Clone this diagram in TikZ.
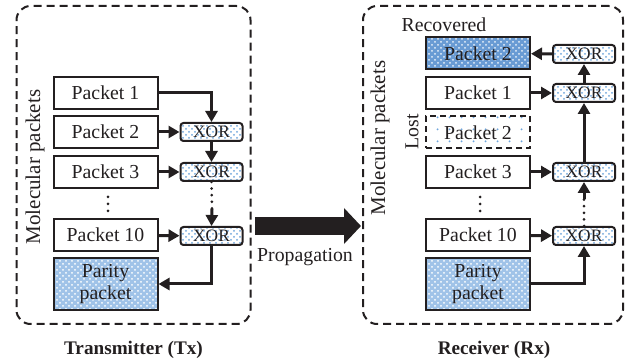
\documentclass[tikz,border=0pt]{standalone}
\usepackage{amsmath}
\usepackage{fontspec}
\setmainfont{Liberation Serif}
\usetikzlibrary{arrows.meta,patterns}

\pgfdeclarepatternformonly{sparse dots}{\pgfpointorigin}{\pgfqpoint{6pt}{6pt}}{\pgfqpoint{6pt}{6pt}}{\pgfpathcircle{\pgfqpoint{3pt}{3pt}}{0.55pt}\pgfusepath{fill}}

\definecolor{dotblue}{RGB}{110,165,220}
\definecolor{parblue}{RGB}{160,195,232}
\definecolor{recblue}{RGB}{105,155,212}
\definecolor{ink}{RGB}{35,31,32}

\begin{document}
\begin{tikzpicture}[x=0.5pt, y=-0.5pt, font=\fontsize{9.9}{11}\selectfont, text=ink,
        pkt/.style={draw=ink, line width=1pt, minimum width=52pt, minimum height=16pt, inner sep=0pt, fill=white},
        xorbox/.style={draw=ink, line width=1pt, rounded corners=1.5pt, minimum width=31pt, minimum height=9pt, inner sep=0pt,
            font=\fontsize{8.7}{9}\selectfont, preaction={fill=white}, pattern=crosshatch dots, pattern color=dotblue},
        parity/.style={pkt, minimum height=26pt, align=center, preaction={fill=parblue}, pattern=crosshatch dots, pattern color=white},
        recov/.style={pkt, preaction={fill=recblue}, pattern=crosshatch dots, pattern color=white!85!recblue},
        lost/.style={pkt, dashed, dash pattern=on 3pt off 2pt, preaction={fill=white}, pattern=sparse dots, pattern color=dotblue},
        unit/.style={draw=ink, line width=1pt, dash pattern=on 4pt off 2.5pt, rounded corners=7pt, minimum width=117pt, minimum height=159pt},
        side/.style={rotate=90, font=\fontsize{10.5}{12}\selectfont},
        title/.style={font=\fontsize{9.6}{11}\selectfont\bfseries},
        conn/.style={draw=ink, line width=1.5pt, -{Triangle[length=5.5pt,width=6pt]}},
        dotline/.style={draw=ink, line width=1.5pt, line cap=round, dash pattern=on 0pt off 3.3pt},
        prop/.style={draw=ink, line width=9pt, -{Triangle[length=8.5pt,width=17.5pt]}}]
        \useasboundingbox (0,0) rectangle (627,363);

        % transmitter
        \node[unit] (tx) at (133.5,165) {};
        \node[side] (txmol) at (35,167) {Molecular packets};
        \node[pkt] (tp1) at (105.5,93) {Packet 1};
        \node[pkt] (tp2) at (105.5,132) {Packet 2};
        \node[pkt] (tp3) at (105.5,172) {Packet 3};
        \foreach \y in {197,204,211}
            \fill[ink] (108,\y) circle (0.75pt);
        \node[pkt] (tp10) at (105.5,235) {Packet 10};
        \node[parity] (tpar) at (105.5,284) {Parity\\packet};
        \node[xorbox] (tx2) at (211.5,132) {XOR};
        \node[xorbox] (tx3) at (211.5,172) {XOR};
        \node[xorbox] (tx10) at (211.5,236) {XOR};
        \coordinate (tgap) at (212,209);
        \draw[conn] (tp1.east) -| (tx2.north);
        \draw[conn] (tp2) -- (tx2);
        \draw[conn] (tp3) -- (tx3);
        \draw[conn] (tp10) -- (tx10);
        \draw[conn] (tx2) -- (tx3);
        \draw[dotline] (tx3.south) -- (tgap);
        \draw[conn] (tgap) -- (tx10.north);
        \draw[conn] (tx10.south) |- (tpar.east);
        \node[title] (txname) at (133.5,350) {Transmitter (Tx)};

        % propagation
        \coordinate (ps) at (255,226);
        \coordinate (pe) at (361,226);
        \draw[prop] (ps) -- (pe);
        \node (proplabel) at (305,257) {Propagation};

        % receiver
        \node[unit, minimum width=130pt] (rx) at (493,165) {};
        \node[side] (rxmol) at (380,138) {Molecular packets};
        \node[rotate=90] (rxlost) at (412,132) {Lost};
        \node (reclabel) at (444,25) {Recovered};
        \node[recov] (rrec) at (478,53.5) {Packet 2};
        \node[pkt] (rp1) at (478,93) {Packet 1};
        \node[lost] (rp2) at (478,132.5) {Packet 2};
        \node[pkt] (rp3) at (478,172) {Packet 3};
        \foreach \y in {197,204,211}
            \fill[ink] (480,\y) circle (0.75pt);
        \node[pkt] (rp10) at (478,235) {Packet 10};
        \node[parity] (rpar) at (478,284) {Parity\\packet};
        \node[xorbox] (rxt) at (584,54) {XOR};
        \node[xorbox] (rx1) at (584,93) {XOR};
        \node[xorbox] (rx3) at (584,172) {XOR};
        \node[xorbox] (rx10) at (584,236) {XOR};
        \coordinate (rgap) at (584,199);
        \draw[conn] (rp1) -- (rx1);
        \draw[conn] (rp3) -- (rx3);
        \draw[conn] (rp10) -- (rx10);
        \draw[conn] (rpar.east) -| (rx10.south);
        \draw[dotline] (rx10.north) -- (rgap);
        \draw[conn] (rgap) -- (rx3.south);
        \draw[conn] (rx3) -- (rx1);
        \draw[conn] (rx1) -- (rxt);
        \draw[conn] (rxt) -- (rrec);
        \node[title] (rxname) at (494,350) {Receiver (Rx)};
\end{tikzpicture}
\end{document}
